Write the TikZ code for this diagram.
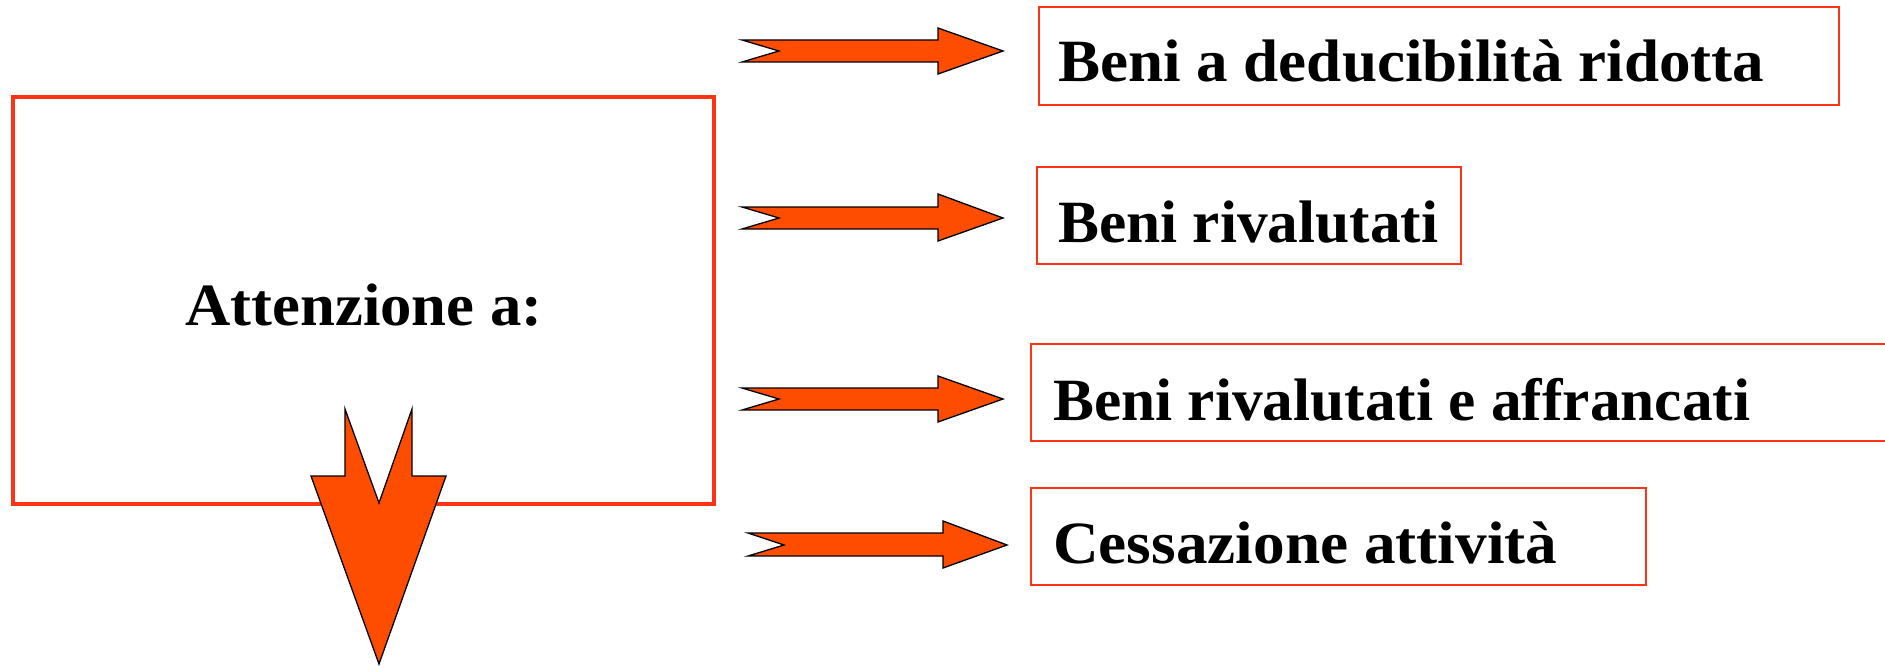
\documentclass[tikz,border=0pt]{standalone}
\usepackage{fontspec}
\usepackage{graphicx}
\setmainfont{Liberation Serif}
\definecolor{boxred}{HTML}{FF3314}
\definecolor{arrowfill}{HTML}{FF4D00}
\begin{document}
\begin{tikzpicture}[x=1pt,y=-1pt,
  box/.style={draw=boxred, line width=2pt, rectangle, inner sep=0pt},
  bigbox/.style={draw=boxred, line width=3.5pt, rectangle, inner sep=0pt},
  lbl/.style={inner sep=0pt, font=\fontsize{60}{70}\selectfont\bfseries},
  blockarrow/.style={fill=arrowfill, draw=black, line width=1.3pt, line join=miter}]
\useasboundingbox (0,0) rectangle (1885,666);
% main box
\node[bigbox, minimum width=701pt, minimum height=407pt] (main) at (363.5,300.5) {};
\node[lbl, anchor=base] (att) at (364,325) {\resizebox{357pt}{\height}{Attenzione a:}};
% right boxes
\node[box, minimum width=800pt, minimum height=98pt] (b1) at (1439,56) {};
\node[box, minimum width=424pt, minimum height=97pt] (b2) at (1249,215.5) {};
\node[box, minimum width=900pt, minimum height=97pt] (b3) at (1481,392.5) {};
\node[box, minimum width=615pt, minimum height=97pt] (b4) at (1338.5,536.5) {};
\node[lbl, anchor=base west] (t1) at (1058,82) {\resizebox{706pt}{\height}{Beni a deducibilità ridotta}};
\node[lbl, anchor=base west] (t2) at (1058,242) {\resizebox{380pt}{\height}{Beni rivalutati}};
\node[lbl, anchor=base west] (t3) at (1053,420) {\resizebox{697pt}{\height}{Beni rivalutati e affrancati}};
\node[lbl, anchor=base west] (t4) at (1053,563) {\resizebox{504pt}{\height}{Cessazione attività}};
% right block arrows
\draw[blockarrow] (742,40) -- (938,40) -- (938,28) -- (1003,51) -- (938,74) -- (938,62) -- (742,62) -- (779,51) -- cycle;
\draw[blockarrow] (742,207) -- (938,207) -- (938,194) -- (1003,218) -- (938,241) -- (938,229) -- (742,229) -- (779,218) -- cycle;
\draw[blockarrow] (742,388) -- (938,388) -- (938,376) -- (1003,399) -- (938,422) -- (938,410) -- (742,410) -- (779,399) -- cycle;
\draw[blockarrow] (748,533) -- (943,533) -- (943,521) -- (1007,545) -- (943,568) -- (943,556) -- (748,556) -- (784,545) -- cycle;
% down block arrow
\draw[blockarrow] (345,409) -- (345,476) -- (311,476) -- (379,664) -- (446,476) -- (412,476) -- (412,409) -- (379,503) -- cycle;
\end{tikzpicture}
\end{document}
